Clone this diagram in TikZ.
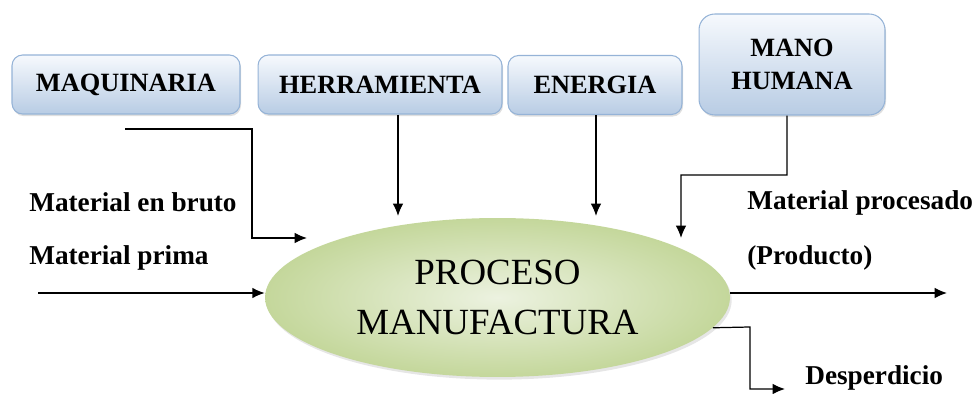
\documentclass[tikz,border=0pt]{standalone}
\usepackage{fontspec}
\setmainfont{LiberationSerif}[Extension=.ttf, UprightFont=*-Regular, BoldFont=*-Bold, ItalicFont=*-Italic, BoldItalicFont=*-BoldItalic]
\usepackage{tikz}
\usetikzlibrary{arrows.meta, positioning, shapes.geometric, shadows}

\definecolor{boxtop}{RGB}{246,249,253}
\definecolor{boxbot}{RGB}{184,204,228}
\definecolor{boxline}{RGB}{149,179,215}
\definecolor{procin}{RGB}{236,242,224}
\definecolor{procout}{RGB}{196,215,155}

\begin{document}
\begin{tikzpicture}[x=0.02cm, y=-0.02cm,
    inbox/.style={rectangle, rounded corners=6pt, draw=boxline, line width=0.6pt,
        top color=boxtop, bottom color=boxbot, minimum height=1.18cm, align=center,
        font=\fontsize{15}{19}\selectfont\bfseries,
        drop shadow={opacity=0.25, shadow xshift=0.6pt, shadow yshift=-1.2pt}},
    lbl/.style={anchor=west, inner sep=0pt, font=\fontsize{15.5}{18}\selectfont\bfseries},
    arr/.style={line width=0.7pt, -{Latex[length=7pt, width=6pt]}}]
        \useasboundingbox (0,0) rectangle (980,394);

        %---------------- Inputs ----------------%
        \node[inbox, minimum width=4.56cm] (maq) at (126,84.5) {MAQUINARIA};
        \node[inbox, minimum width=4.88cm] (herr) at (380,84.5) {HERRAMIENTA};
        \node[inbox, minimum width=3.48cm] (ener) at (595,85) {ENERGIA};
        \node[inbox, minimum width=3.72cm, minimum height=2.02cm, rounded corners=9pt] (mano) at (792,64.5) {MANO\\HUMANA};

        %---------------- Process ----------------%
        \node[ellipse, minimum width=9.3cm, minimum height=3.18cm, inner color=procin, outer color=procout,
            align=center, font=\fontsize{21}{28.5}\selectfont,
            drop shadow={opacity=0.2, shadow xshift=1pt, shadow yshift=-1.5pt}] (proc) at (497.5,297.5) {PROCESO\\MANUFACTURA};

        %---------------- Labels ----------------%
        \node[lbl] (bruto) at (29,202) {Material en bruto};
        \node[lbl] (prima) at (29,258) {Material prima};
        \node[lbl] (procesado) at (747,203) {Material procesado};
        \node[lbl] (producto) at (747,258) {(Producto)};
        \node[lbl] (desp) at (805,378) {Desperdicio};

        % free ends
        \coordinate (maq-in) at (125,129);
        \coordinate (maq-tip) at (307,238);
        \coordinate (herr-tip) at (398,216);
        \coordinate (ener-tip) at (596,216);
        \coordinate (mano-tip) at (681,238);
        \coordinate (prima-in) at (38,293);
        \coordinate (prod-out) at (947,293);
        \coordinate (desp-out) at (785,389);

        %---------------- Connectors ----------------%
        \draw[arr] (maq-in) -- (252,129) |- (maq-tip);
        \draw[arr] (herr.south -| herr-tip) -- (herr-tip);
        \draw[arr] (ener.south -| ener-tip) -- (ener-tip);
        \draw[arr] ([xshift=-0.1cm]mano.south) -- (787,175) -| (mano-tip);
        \draw[arr] (prima-in) -- (prima-in -| proc.west);
        \draw[arr] (proc.east |- prod-out) -- (prod-out);
        \draw[arr] (proc.-8) -- (750,327) |- (desp-out);
    \end{tikzpicture}
\end{document}
